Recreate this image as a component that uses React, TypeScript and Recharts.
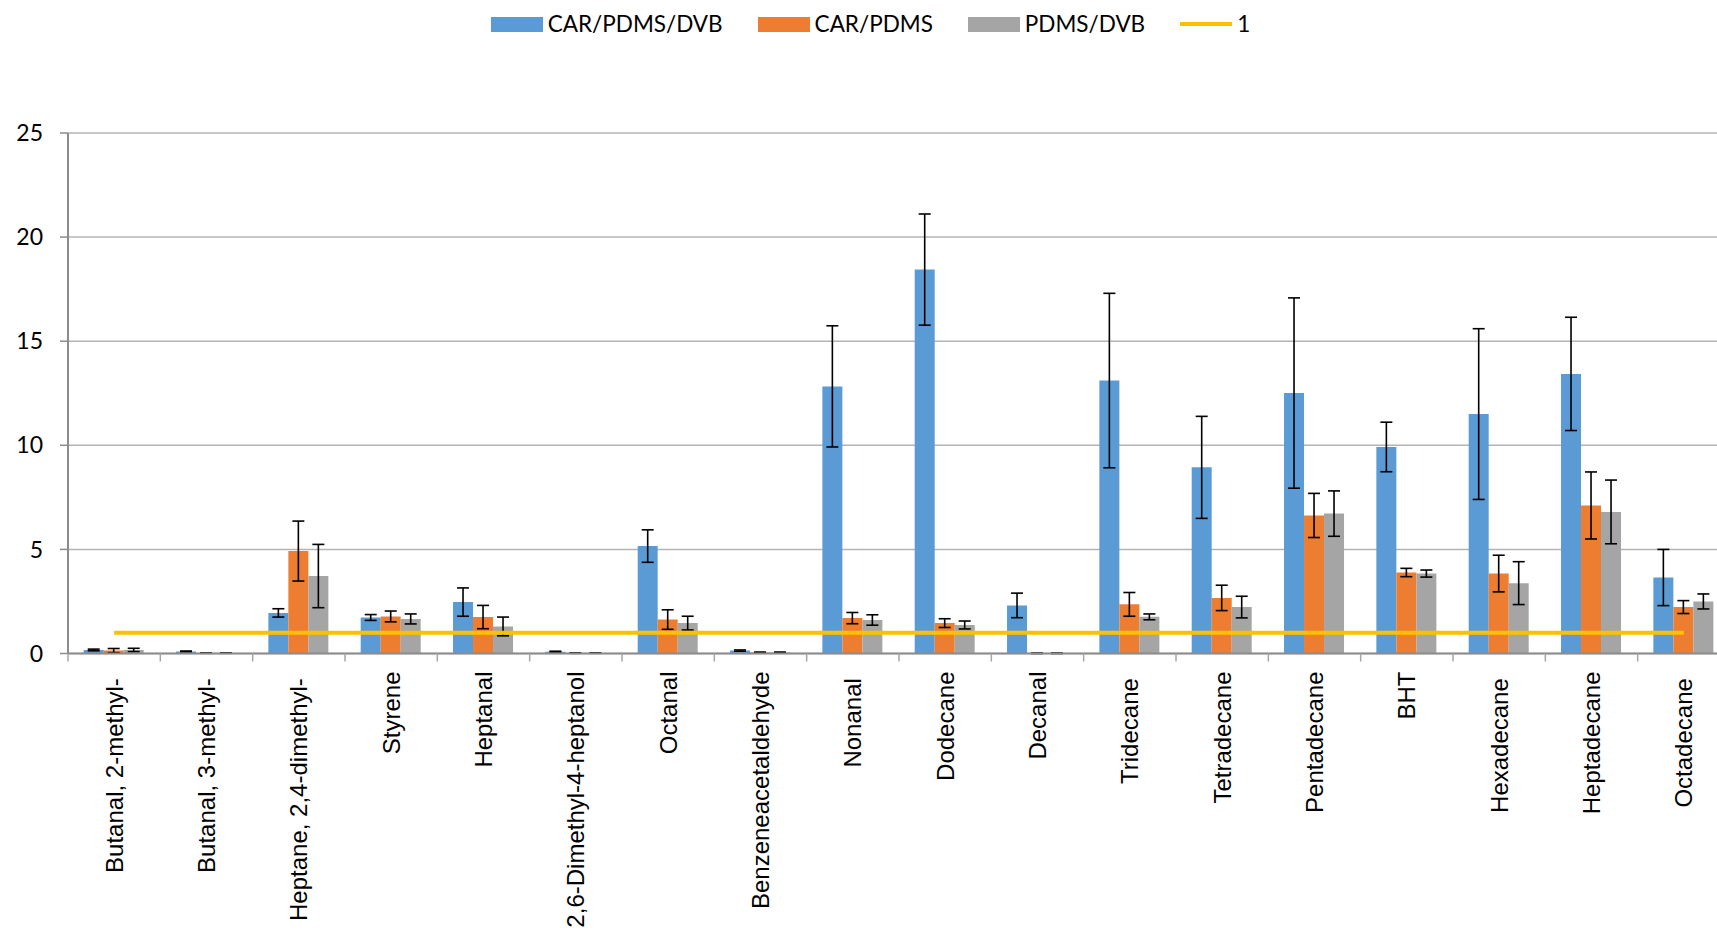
import React from 'react';
import {
  ComposedChart,
  Bar,
  Line,
  XAxis,
  YAxis,
  CartesianGrid,
  ErrorBar,
  Legend,
} from 'recharts';

// Compounds (some names carry a trailing space, as in the source table)
const categories = [
  'Butanal, 2-methyl- ',
  'Butanal, 3-methyl- ',
  'Heptane, 2,4-dimethyl- ',
  'Styrene',
  'Heptanal',
  '2,6-Dimethyl-4-heptanol',
  'Octanal',
  'Benzeneacetaldehyde',
  'Nonanal ',
  'Dodecane',
  'Decanal',
  'Tridecane ',
  'Tetradecane',
  'Pentadecane',
  'BHT',
  'Hexadecane ',
  'Heptadecane',
  'Octadecane ',
];

const carPdmsDvb = [0.17, 0.1, 1.95, 1.73, 2.47, 0.09, 5.16, 0.14, 12.83, 18.44, 2.31, 13.11, 8.94, 12.51, 9.92, 11.5, 13.43, 3.65];
const carPdmsDvbErr = [0.04, 0.02, 0.2, 0.14, 0.68, 0.02, 0.78, 0.03, 2.91, 2.67, 0.59, 4.19, 2.45, 4.57, 1.19, 4.1, 2.72, 1.35];

const carPdms = [0.14, 0.02, 4.92, 1.78, 1.75, 0.02, 1.63, 0.05, 1.7, 1.46, 0.01, 2.36, 2.67, 6.63, 3.89, 3.84, 7.11, 2.23];
const carPdmsErr = [0.1, 0.01, 1.44, 0.26, 0.56, 0.01, 0.47, 0.02, 0.27, 0.21, 0.01, 0.57, 0.61, 1.06, 0.2, 0.88, 1.61, 0.31];

const pdmsDvb = [0.17, 0.02, 3.72, 1.66, 1.3, 0.02, 1.46, 0.05, 1.61, 1.37, 0.01, 1.76, 2.23, 6.72, 3.84, 3.38, 6.8, 2.5];
const pdmsDvbErr = [0.08, 0.01, 1.52, 0.24, 0.45, 0.01, 0.33, 0.02, 0.25, 0.19, 0.01, 0.14, 0.52, 1.09, 0.17, 1.03, 1.53, 0.36];

const thresholdLevel = 1;
const yTicks = [0, 5, 10, 15, 20, 25];

const seriesNames = ['CAR/PDMS/DVB', 'CAR/PDMS', 'PDMS/DVB', '1'];
const COLORS = ['#5B9BD5', '#ED7D31', '#A5A5A5', '#FFC000'];

const data = categories.map((name, i) => ({
  name,
  a: carPdmsDvb[i],
  aErr: carPdmsDvbErr[i],
  b: carPdms[i],
  bErr: carPdmsErr[i],
  c: pdmsDvb[i],
  cErr: pdmsDvbErr[i],
  threshold: thresholdLevel,
}));

// Layout
const CHART_W = 1740;
const CHART_H = 939;
const MARGIN = { top: 133, right: 10, bottom: 0, left: 0 };
const Y_AXIS_W = 68;
const X_AXIS_H = 285.5;
const BAND = (CHART_W - MARGIN.left - MARGIN.right - Y_AXIS_W) / categories.length;

const AXIS_COLOR = '#8C8C8C';
const GRID_COLOR = '#B4B4B4';
const SANS = 'Lato, "Liberation Sans", Arial, sans-serif';

function CategoryTick(props: any) {
  const { x, y, payload } = props;
  const left = x - BAND / 2;
  const ty = y + 18;
  return (
    <g>
      <line x1={left} y1={y} x2={left} y2={y + 8} stroke="#A6A6A6" strokeWidth={1.5} />
      <text
        x={x}
        y={ty}
        transform={`rotate(-90, ${x}, ${ty})`}
        textAnchor="end"
        dominantBaseline="central"
        fontFamily='"Liberation Sans", Arial, sans-serif'
        fontSize={24}
        fill="#000"
        xmlSpace="preserve"
        style={{ whiteSpace: 'pre' }}
      >
        {payload.value}
      </text>
    </g>
  );
}

function LegendContent() {
  return (
    <div
      style={{
        display: 'flex',
        justifyContent: 'center',
        alignItems: 'center',
        fontFamily: SANS,
        fontSize: 22.5,
        color: '#000',
        height: 28,
        whiteSpace: 'nowrap',
      }}
    >
      {seriesNames.map((label, i) => (
        <div
          key={label}
          style={{ display: 'flex', alignItems: 'center', marginLeft: i === 0 ? 0 : 35 }}
        >
          {i < 3 ? (
            <span style={{ display: 'inline-block', width: 52, height: 15, background: COLORS[i] }} />
          ) : (
            <span style={{ display: 'inline-block', width: 52, height: 4, background: COLORS[i] }} />
          )}
          <span style={{ marginLeft: 5, lineHeight: '28px' }}>{label}</span>
        </div>
      ))}
    </div>
  );
}

export default function App() {
  return (
    <div
      style={{
        position: 'fixed',
        left: 0,
        top: 0,
        width: 1717,
        height: 939,
        overflow: 'hidden',
        background: '#fff',
      }}
    >
      <ComposedChart
        width={CHART_W}
        height={CHART_H}
        data={data}
        margin={MARGIN}
        barGap={0}
        barCategoryGap="17%"
      >
        <CartesianGrid vertical={false} stroke={GRID_COLOR} strokeWidth={1.5} />
        <XAxis
          dataKey="name"
          interval={0}
          height={X_AXIS_H}
          tickSize={0}
          tickMargin={0}
          tickLine={false}
          axisLine={{ stroke: AXIS_COLOR, strokeWidth: 2 }}
          tick={<CategoryTick />}
        />
        <YAxis
          domain={[0, 25]}
          ticks={yTicks}
          width={Y_AXIS_W}
          tickSize={8}
          tickMargin={17}
          tickLine={{ stroke: AXIS_COLOR, strokeWidth: 1.5 }}
          axisLine={{ stroke: AXIS_COLOR, strokeWidth: 2 }}
          tick={{ fontFamily: SANS, fontSize: 23, fill: '#000' }}
          allowDataOverflow
        />
        <Legend
          layout="horizontal"
          align="center"
          verticalAlign="middle"
          wrapperStyle={{ top: 10, left: 0, width: 1741, height: 28 }}
          content={<LegendContent />}
        />
        <Bar dataKey="a" name="CAR/PDMS/DVB" fill={COLORS[0]} isAnimationActive={false}>
          <ErrorBar dataKey="aErr" width={6} stroke="#000" strokeWidth={1.6} />
        </Bar>
        <Bar dataKey="b" name="CAR/PDMS" fill={COLORS[1]} isAnimationActive={false}>
          <ErrorBar dataKey="bErr" width={6} stroke="#000" strokeWidth={1.6} />
        </Bar>
        <Bar dataKey="c" name="PDMS/DVB" fill={COLORS[2]} isAnimationActive={false}>
          <ErrorBar dataKey="cErr" width={6} stroke="#000" strokeWidth={1.6} />
        </Bar>
        <Line
          type="linear"
          dataKey="threshold"
          name="1"
          stroke={COLORS[3]}
          strokeWidth={4}
          dot={false}
          activeDot={false}
          isAnimationActive={false}
        />
      </ComposedChart>
    </div>
  );
}
